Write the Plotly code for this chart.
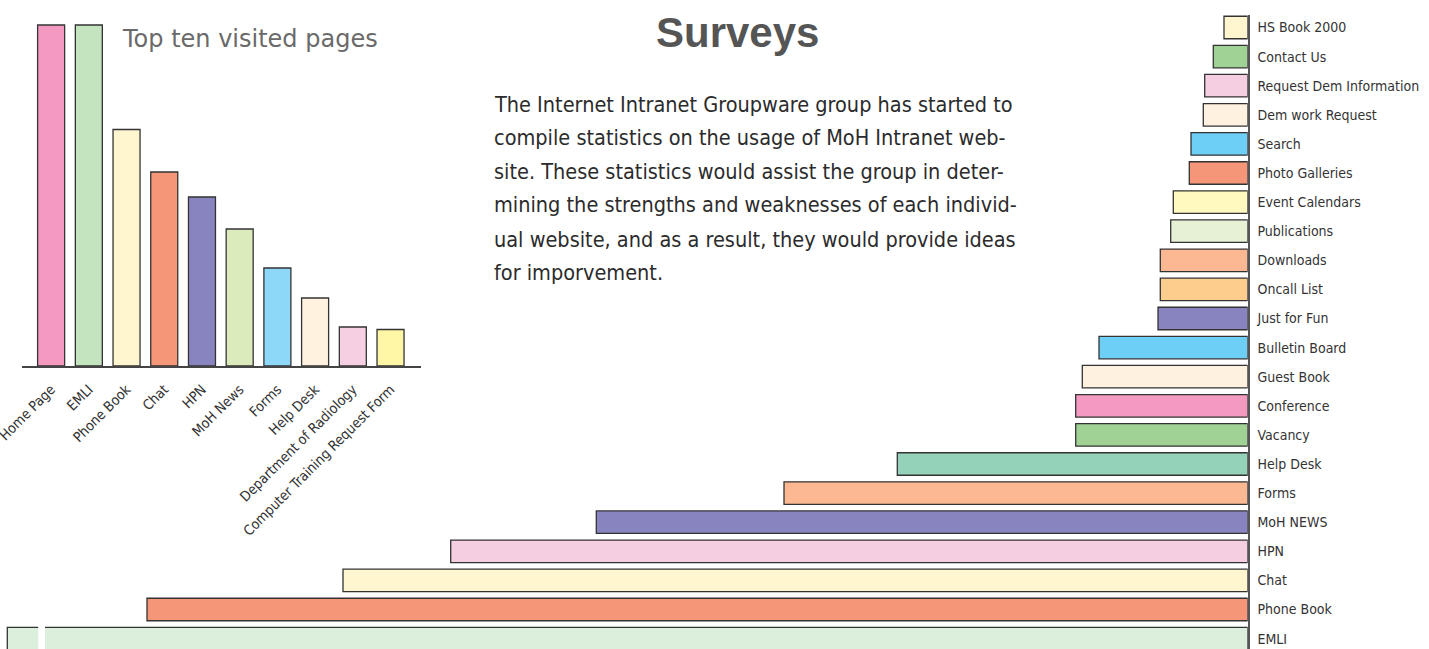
import plotly.graph_objects as go

W, H = 1429, 649

# ---------------- data ----------------
top_pages = ["Home Page", "EMLI", "Phone Book", "Chat", "HPN", "MoH News", "Forms",
             "Help Desk", "Department of Radiology", "Computer Training Request Form"]
top_hits = [15874, 15874, 11009, 9031, 7867, 6377, 4562, 3165, 1815, 1699]
top_colors = ["#F49AC1", "#C4E3BF", "#FFF6D0", "#F69679", "#8884C0", "#DCEBBC",
              "#8DD8F8", "#FFF2DF", "#F6CFE2", "#FFF7A6"]

pages = ["HS Book 2000", "Contact Us", "Request Dem Information", "Dem work Request",
         "Search", "Photo Galleries", "Event Calendars", "Publications", "Downloads",
         "Oncall List", "Just for Fun", "Bulletin Board", "Guest Book", "Conference",
         "Vacancy", "Help Desk", "Forms", "MoH NEWS", "HPN", "Chat", "Phone Book", "EMLI"]
hits = [237, 344, 430, 444, 567, 584, 744, 770, 874, 874, 897, 1487, 1654, 1720,
        1720, 3504, 4637, 6514, 7970, 9047, 11007, 12404]
page_colors = ["#FFF6D0", "#A0D296", "#F5CFE1", "#FEF1DF", "#6DCFF6", "#F69679",
               "#FFF9C0", "#E6F1D6", "#FBB893", "#FDCD8E", "#8884C0", "#6DCFF6",
               "#FEF1DF", "#F49AC1", "#A0D296", "#94D3B9", "#FBB893", "#8884C0",
               "#F5CFE1", "#FFF6D0", "#F69679", "#DCEFDC"]

title_text = "Surveys"
subtitle_text = "Top ten visited pages"
paragraph_lines = [
    "The Internet Intranet Groupware group has started to",
    "compile statistics on the usage of MoH Intranet web-",
    "site. These statistics would assist the group in deter-",
    "mining the strengths and weaknesses of each individ-",
    "ual website, and as a result, they would provide ideas",
    "for imporvement.",
]

NARROW = "DejaVu Sans Condensed, Liberation Sans Narrow, Arial Narrow, sans-serif"
EDGE = "#333333"


def px_x(x):
    return x / W


def px_y(y):
    return 1 - y / H


fig = go.Figure()

# big horizontal chart (bars grow leftwards)
fig.add_trace(go.Bar(
    x=hits, y=pages, orientation="h", width=0.773,
    marker=dict(color=page_colors, line=dict(color=EDGE, width=1.3)),
    xaxis="x", yaxis="y", showlegend=False, hoverinfo="x+y",
))

# top-ten vertical chart
fig.add_trace(go.Bar(
    x=top_pages, y=top_hits, width=0.716,
    marker=dict(color=top_colors, line=dict(color=EDGE, width=1.3)),
    xaxis="x2", yaxis="y2", showlegend=False, hoverinfo="x+y",
))

annotations = [
    dict(text="<b>%s</b>" % title_text, x=px_x(737), y=px_y(32), xref="paper", yref="paper",
         xanchor="center", yanchor="middle", showarrow=False,
         font=dict(family="Liberation Sans, Arial, sans-serif", size=42, color="#555555")),
    dict(text=subtitle_text, x=px_x(120), y=px_y(39), xref="paper", yref="paper",
         xanchor="left", yanchor="middle", showarrow=False,
         font=dict(family="DejaVu Sans, sans-serif", size=24, color="#6a6a6a")),
]
line_centers = [104, 137.5, 171, 204.5, 239, 272]
for line, yc in zip(paragraph_lines, line_centers):
    annotations.append(dict(text=line, x=px_x(492), y=px_y(yc), xref="paper", yref="paper",
                            xanchor="left", yanchor="middle", showarrow=False,
                            font=dict(family=NARROW, size=21.5, color="#2b2b2b")))

fig.update_layout(
    width=W, height=H,
    margin=dict(l=0, r=0, t=0, b=0, autoexpand=False),
    paper_bgcolor="white", plot_bgcolor="rgba(0,0,0,0)",
    xaxis=dict(domain=[0, px_x(1247.7)], range=[12477, 0], showgrid=False,
               zeroline=False, showline=False, showticklabels=False, fixedrange=True,
               automargin=False),
    yaxis=dict(domain=[0, px_y(15)], range=[21.357, -0.43], type="category",
               categoryorder="array", categoryarray=pages, automargin=False,
               side="right", showline=True, linecolor="#555555", linewidth=2,
               showgrid=False, zeroline=False, ticks="", ticklabelstandoff=5,
               tickfont=dict(family=NARROW, size=14, color="#333333")),
    xaxis2=dict(domain=[px_x(21.7), px_x(420.7)], range=[-0.78, 9.8], type="category",
                anchor="y2", showline=True, linecolor="#444444", linewidth=1.5,
                showgrid=False, zeroline=False, ticks="", tickangle=-45, automargin=False,
                ticklabelstandoff=8,
                tickfont=dict(family=NARROW, size=14, color="#333333")),
    yaxis2=dict(domain=[px_y(366), px_y(15)], range=[0, 16339], anchor="x2",
                visible=False, showgrid=False, zeroline=False, automargin=False),
    annotations=annotations,
    shapes=[
        # break mark on the EMLI bar
        dict(type="rect", xref="paper", yref="paper", x0=px_x(38.2), x1=px_x(45),
             y0=0, y1=px_y(625), fillcolor="white", line=dict(width=0), layer="above"),
    ],
)

fig.write_html("out.html", config={"displayModeBar": False},
               post_script="document.body.style.margin='0';document.body.style.overflow='hidden';")
